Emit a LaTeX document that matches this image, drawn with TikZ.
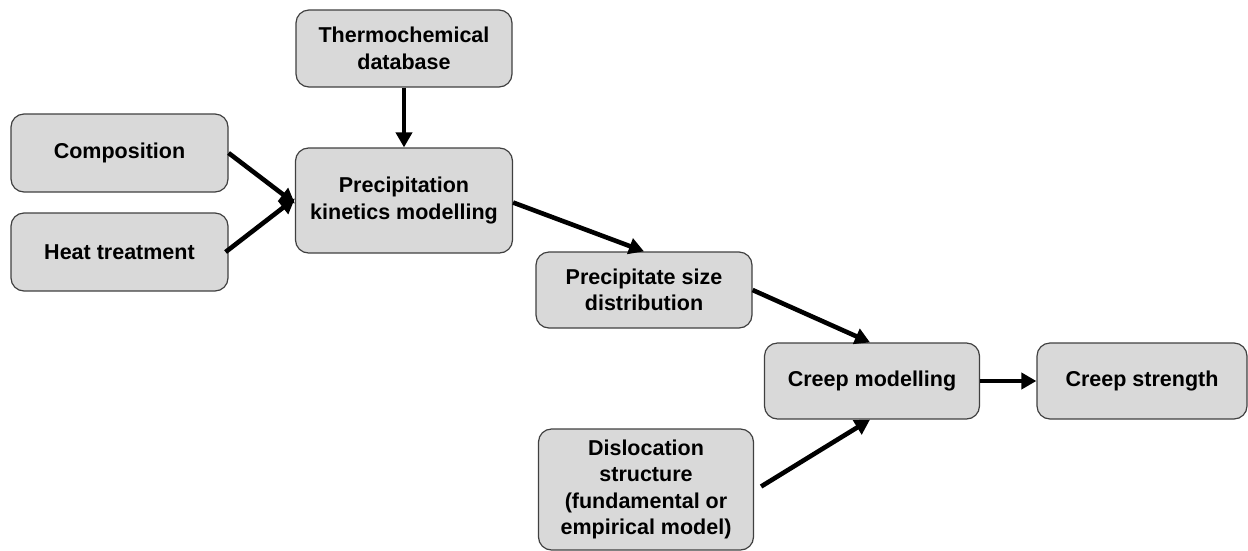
\documentclass[tikz,border=0pt]{standalone}
\usepackage{fontspec}
\setmainfont{Liberation Sans}
\usetikzlibrary{arrows.meta}

\tikzset{every picture/.style={line width=0.75pt}}
\tikzset{
  procbox/.style={draw={rgb,255:red,64;green,64;blue,64}, fill={rgb,255:red,217;green,217;blue,217},
    rounded corners=13pt, line width=1.2pt, align=center, inner sep=2pt,
    font=\bfseries\fontsize{21.5}{26.5}\selectfont},
  flow/.style={line width=4.6pt, -{Triangle[length=15pt,width=16pt]}}
}

\begin{document}
\begin{tikzpicture}[x=1pt,y=1pt,yscale=-1,xscale=1]
\useasboundingbox (0,0) rectangle (1248,550);

%Shape: Rounded Rectangle [id:thermo]
\node [procbox, minimum width=216pt, minimum height=77pt] (thermo) at (404,48.5) {Thermochemical\\database};
%Shape: Rounded Rectangle [id:comp]
\node [procbox, minimum width=217pt, minimum height=78pt] (comp) at (119.5,153) {Composition};
%Shape: Rounded Rectangle [id:heat]
\node [procbox, minimum width=217pt, minimum height=78pt] (heat) at (119.5,252) {Heat treatment};
%Shape: Rounded Rectangle [id:kinetics]
\node [procbox, minimum width=217pt, minimum height=105pt] (kinetics) at (404,200.5) {Precipitation\\kinetics modelling};
%Shape: Rounded Rectangle [id:psd]
\node [procbox, minimum width=216pt, minimum height=76pt] (psd) at (644,290) {Precipitate size\\distribution};
%Shape: Rounded Rectangle [id:creep]
\node [procbox, minimum width=215pt, minimum height=76pt] (creep) at (872,381) {Creep modelling};
%Shape: Rounded Rectangle [id:strength]
\node [procbox, minimum width=210pt, minimum height=76pt] (strength) at (1142,381) {Creep strength};
%Shape: Rounded Rectangle [id:disloc]
\node [procbox, minimum width=215pt, minimum height=121pt] (disloc) at (646,489.5) {Dislocation\\structure\\(fundamental or\\empirical model)};

%Straight Lines [id:arrows]
\draw [flow] (thermo.south) -- (kinetics.north);
\draw [flow] (comp.east) -- ([yshift=3pt]kinetics.west);
\draw [flow] ([xshift=-3pt]heat.east) -- ([yshift=-2pt]kinetics.west);
\draw [flow] ([yshift=2pt]kinetics.east) -- (psd.north);
\draw [flow] (psd.east) -- ([xshift=-2pt]creep.north);
\draw [flow] ([xshift=7pt,yshift=-3pt]disloc.east) -- ([xshift=-2pt]creep.south);
\draw [flow] (creep.east) -- (strength.west);

\end{tikzpicture}
\end{document}
